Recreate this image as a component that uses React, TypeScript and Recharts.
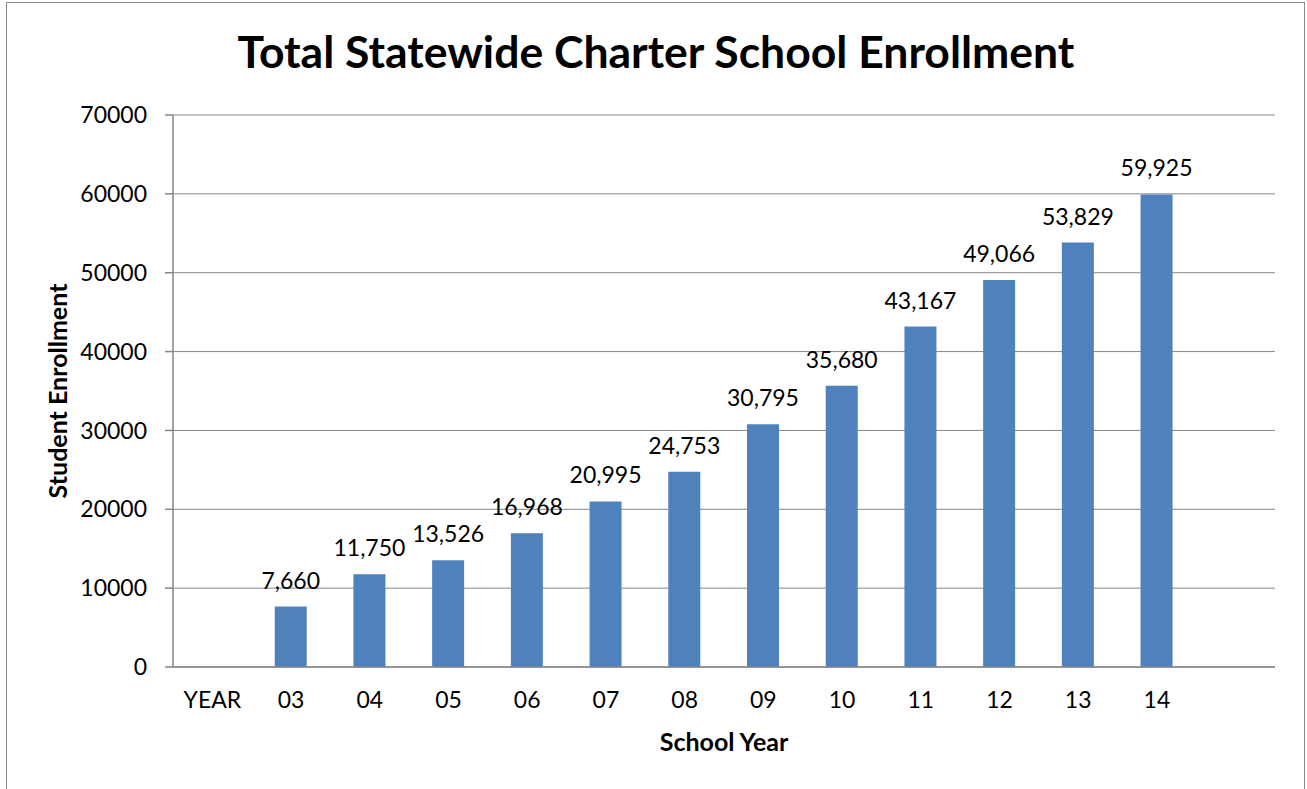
import React from "react";
import { BarChart, Bar, XAxis, YAxis, CartesianGrid, LabelList, Label } from "recharts";

const categories = ["YEAR", "03", "04", "05", "06", "07", "08", "09", "10", "11", "12", "13", "14", ""];
const enrollment: (number | null)[] = [null, 7660, 11750, 13526, 16968, 20995, 24753, 30795, 35680, 43167, 49066, 53829, 59925, null];
const yTicks = [0, 10000, 20000, 30000, 40000, 50000, 60000, 70000];
const title = "Total Statewide Charter School Enrollment";
const xTitle = "School Year";
const yTitle = "Student Enrollment";

const data = categories.map((c, i) => ({ year: c, value: enrollment[i] }));

const FONT = "Lato, 'Open Sans', sans-serif";
const GRAY = "#868686";

const ValueLabel = (props: any) => {
  const { x, y, width, value } = props;
  if (value == null) return null;
  return (
    <text x={x + width / 2} y={y - 18} textAnchor="middle" fontSize={23} fill="#000" fontFamily={FONT}>
      {Number(value).toLocaleString("en-US")}
    </text>
  );
};

const YTitle = (props: any) => {
  const vb = props.viewBox || {};
  const cy = vb.y + vb.height / 2;
  return (
    <text
      x={57}
      y={cy}
      transform={`rotate(-90, 57, ${cy})`}
      textAnchor="middle"
      dominantBaseline="central"
      fontSize={25}
      fontWeight="bold"
      fontFamily={FONT}
      fill="#000"
    >
      {yTitle}
    </text>
  );
};

const XTitle = (props: any) => {
  const vb = props.viewBox || {};
  return (
    <text
      x={vb.x + vb.width / 2}
      y={751}
      textAnchor="middle"
      fontSize={25}
      fontWeight="bold"
      fontFamily={FONT}
      fill="#000"
    >
      {xTitle}
    </text>
  );
};

export default function App() {
  return (
    <div style={{ position: "absolute", left: 0, top: 0, width: 1307, height: 789, overflow: "hidden", background: "#fff" }}>
      <div
        style={{
          position: "absolute",
          left: 6,
          top: 2,
          width: 1297,
          height: 840,
          border: "1px solid #8a8a8a",
        }}
      />
      <svg style={{ position: "absolute", left: 0, top: 0 }} width={1307} height={100}>
        <text x={656} y={68} textAnchor="middle" fontSize={44.5} fontWeight="bold" fontFamily={FONT} fill="#000">
          {title}
        </text>
      </svg>
      <div style={{ position: "absolute", left: 0, top: 0 }}>
        <BarChart width={1307} height={789} data={data} margin={{ top: 115, right: 32, left: 93, bottom: 62 }}>
          <CartesianGrid vertical={false} stroke={GRAY} strokeWidth={1} />
          <XAxis
            dataKey="year"
            interval={0}
            tickLine={false}
            tickSize={0}
            tickMargin={25}
            height={60}
            axisLine={{ stroke: GRAY, strokeWidth: 1.5 }}
            tick={{ fontSize: 23, fill: "#000", fontFamily: FONT }}
          >
            <Label content={<XTitle />} />
          </XAxis>
          <YAxis
            width={80}
            domain={[0, 70000]}
            ticks={yTicks}
            interval={0}
            tickSize={8}
            tickMargin={18}
            axisLine={{ stroke: GRAY, strokeWidth: 1.5 }}
            tickLine={{ stroke: GRAY, strokeWidth: 1.5 }}
            tick={{ fontSize: 23, fill: "#000", fontFamily: FONT }}
          >
            <Label content={<YTitle />} />
          </YAxis>
          <Bar dataKey="value" fill="#4F81BD" barSize={32} isAnimationActive={false}>
            <LabelList dataKey="value" content={<ValueLabel />} />
          </Bar>
        </BarChart>
      </div>
    </div>
  );
}
